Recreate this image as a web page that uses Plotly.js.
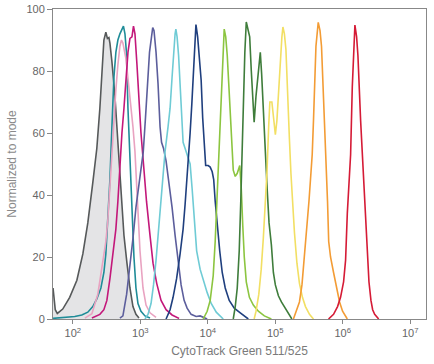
<!DOCTYPE html>
<html>
<head>
<meta charset="utf-8">
<script src="https://cdn.plot.ly/plotly-3.0.1.min.js"></script>
<style>html,body{margin:0;padding:0;background:#fff}#chart{width:434px;height:364px}</style>
</head>
<body>
<div id="chart"></div>
<script>
// Fluorescence intensity (x) and % of mode (y) for each histogram
const unstainedX = [51,55,59,71,90,115,141,167,198,227,252,270,289,309,326,343,355,380,421,466,517,573,635,703,779,863,957];
const unstainedY = [10,3,1.8,3.2,7,12.5,21,31,44,55,68,80,90,92.5,90.5,90.8,89,83,72,57,40,27,18,10,4,1.5,0.3];

const tealX = [51,76,107,136,167,198,227,261,289,309,331,355,380,407,435,466,499,535,563,593,624,657,703,753,806,863,924,1024,1175,1394];
const tealY = [0.2,0.5,0.8,1.3,2.2,4,6.5,10,15,21,32,45,62,78,86,90,92,93.5,94.5,92,86,68,52,36,20,10,5,2.5,1,0.3];

const pinkX = [151,192,235,279,309,331,355,380,407,435,466,499,526,553,613,657,715,779,834,909,990,1097,1216,1394,1712];
const pinkY = [0.3,1.7,8,18,25,32,43,55,65,74,82,88,90,89,84,78,70,62,54,38,22,10,4.5,2,0.5];

const magentaX = [192,252,289,320,355,393,435,466,499,535,573,613,657,703,753,793,834,893,957,1024,1097,1236,1394,1545,1752,2031,2410,2958,3758];
const magentaY = [0.3,1.5,3,6,13,21,29,38,50,60,68,78,86,90.5,91,94.5,92,82,70,60,52,38,27,18,11.5,6,3,1.3,0.2];

const purpleX = [499,553,628,703,779,863,957,1042,1108,1195,1280,1370,1467,1529,1598,1712,1832,1963,2066,2212,2410,2669,2958,3279,3632,4025,4460,4940,5668,6725,7713,8843,9800];
const purpleY = [0.3,1,8,17,26,36,44,49,54,65,76,86,91,94,93,86,76,62,57,55,51,44,36,27,18,11,6,3.5,1.5,0.8,1.0,0.5,0];

const cyanX = [1175,1300,1443,1571,1712,1896,2101,2328,2578,2763,2958,3115,3279,3369,3510,3695,3890,4095,4310,4696,5115,5476,5865,6280,6842,7713,8690,9800,11240,13350,16950];
const cyanY = [0,1.5,5,11,19,31,43,54,62,68,78,86,92,93.5,91,85,75,63,57,54.5,52,50,42,33,22,16,12,8.5,5,2.2,0];

const navyX = [2410,2763,3062,3451,3890,4310,4616,4940,5203,5476,5805,6068,6390,6680,7080,7580,7980,8400,8843,9306,10140,10860,11630,12240,12880,13790,15030,16370,18130,20800,24690,30300,34740,39850];
const navyY = [0,3,7,13,21,29,37,45,52,60,69.4,78,88,95,91,82,77,65,55,49.5,49.5,49,47.5,45,38,30,22,15,10,6,3.5,2,1,0];

const lightGreenX = [8540,9800,10860,12040,12880,13790,14520,15290,16200,16950,17520,18450,19430,20440,21520,22660,23850,25530,27330,29780,31360,33020,34740,37190,41360,47290,56090,68890,87500];
const lightGreenY = [0,2.5,6,14,25,40,53,66,80,90,93.5,91,85,76,65,55,48,46,47,49.5,42,30,20,12,7,4.5,2.5,1,0];

const darkGreenX = [23850,25530,27330,29250,30830,32100,33230,34100,35400,37190,39050,41780,44150,46340,48640,51850,56090,59990,62830,66480,71270,75800,80850,87500,93700,100300,111200,123300,136500,156500,176100];
const darkGreenY = [0,4,10,22,38,52,64,75,86,95.8,94,91,80,71,63.5,72,80,86,79,66,54,42,31,24,15,11,7.5,5.5,4,1.8,0];

const yellowX = [48640,51850,57050,61870,66480,71270,75550,79800,83140,89030,93700,100300,105700,112400,119100,125300,129800,136500,143800,151300,162100,170600,179500,192200,209400,228100,252700,280100,321100,368100];
const yellowY = [0,2.5,8,16,26,36,48,62,70,70,65,59.5,64,75,86,91,94.2,92,87,72,58,47,38,28,18,11.5,7,4,1.5,0];

const orangeX = [185700,205600,228100,248500,266100,289800,315500,332500,352400,368100,384500,400500,432900,460100,484200,513000,536500,564700,594400,618800,658800,730000,809000,896300,993000,1167000];
const orangeY = [0,2.5,5.5,11,18,28,38,45,53,64,80,88,95.7,93,88,75,63,50,38,25,20,15,10,5.5,2.5,0];

const redX = [615000,730000,837000,927000,1028000,1101000,1167000,1220000,1306000,1384000,1448000,1513000,1603000,1677000,1838000,2056000,2180000,2312000,2442000,2615000,2772000,2969000,3403000];
const redY = [0,1.5,4,7,12,19,34,42,53,75,88,94.8,91,85,64,44,33,23,12,6,3,1.5,0];

const xTickVals = [100,1000,10000,100000,1000000,10000000];
const xTickText = ['10<sup>2</sup>','10<sup>3</sup>','10<sup>4</sup>','10<sup>5</sup>','10<sup>6</sup>','10<sup>7</sup>'];
const yTickVals = [0,20,40,60,80,100];
const xTitle = 'CytoTrack Green 511/525';
const yTitle = 'Normalized to mode';

const series = [
  {x: tealX, y: tealY, color: '#1f8c98'},
  {x: pinkX, y: pinkY, color: '#e9a3c1'},
  {x: magentaX, y: magentaY, color: '#c3187a'},
  {x: purpleX, y: purpleY, color: '#5c5e9c'},
  {x: cyanX, y: cyanY, color: '#6fcbd5'},
  {x: navyX, y: navyY, color: '#1f3f7e'},
  {x: lightGreenX, y: lightGreenY, color: '#8cc540'},
  {x: darkGreenX, y: darkGreenY, color: '#3f7d3b'},
  {x: yellowX, y: yellowY, color: '#f2df63'},
  {x: orangeX, y: orangeY, color: '#f39c35'},
  {x: redX, y: redY, color: '#d51b36'}
];

const traces = [{
  x: unstainedX, y: unstainedY, type: 'scatter', mode: 'lines',
  fill: 'tozeroy', fillcolor: '#e4e4e6',
  line: {color: '#56595a', width: 1.6}, hoverinfo: 'skip'
}];
series.forEach(s => traces.push({
  x: s.x, y: s.y, type: 'scatter', mode: 'lines',
  line: {color: s.color, width: 1.6}, hoverinfo: 'skip'
}));

const layout = {
  width: 434, height: 364,
  margin: {l: 53, r: 8, t: 9, b: 45},
  paper_bgcolor: '#ffffff', plot_bgcolor: '#ffffff',
  showlegend: false,
  font: {family: 'Liberation Sans, Arial, sans-serif', color: '#666'},
  xaxis: {
    type: 'log', range: [1.707, 7.233],
    tickvals: xTickVals, ticktext: xTickText,
    ticks: 'outside', ticklen: 4, tickcolor: '#888', tickwidth: 1,
    showline: true, linecolor: '#888', linewidth: 1, mirror: true,
    showgrid: false, zeroline: false,
    tickfont: {size: 11, color: '#666'},
    title: {text: xTitle, font: {size: 12, color: '#7a7a7a'}, standoff: 8}
  },
  yaxis: {
    range: [0, 100], tickvals: yTickVals,
    ticks: 'outside', ticklen: 5, tickcolor: '#888', tickwidth: 1,
    showline: true, linecolor: '#888', linewidth: 1, mirror: true,
    showgrid: false, zeroline: false,
    tickfont: {size: 11, color: '#666'},
    title: {text: yTitle, font: {size: 12, color: '#8a8a8a'}, standoff: 7}
  }
};

Plotly.newPlot('chart', traces, layout, {staticPlot: true, displayModeBar: false});
</script>
</body>
</html>
